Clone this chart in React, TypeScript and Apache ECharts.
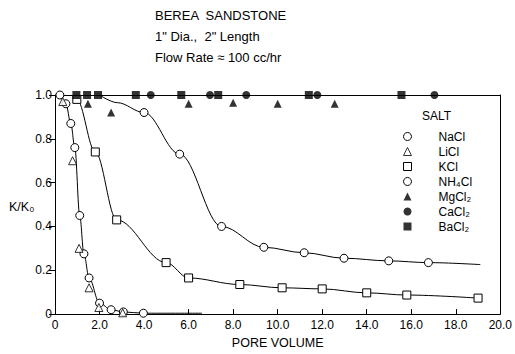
import React, { useEffect, useRef } from "react";
import * as echarts from "echarts";

const titleLines = ["BEREA  SANDSTONE", "1\" Dia.,  2\" Length", "Flow Rate ≈ 100 cc/hr"];
const xTicks = [0, 2, 4, 6, 8, 10, 12, 14, 16, 18, 20];
const xTickLabels = ["0", "2.0", "4.0", "6.0", "8.0", "10.0", "12.0", "14.0", "16.0", "18.0", "20.0"];
const yTicks = [0, 0.2, 0.4, 0.6, 0.8, 1.0];
const yTickLabels = ["0", "0.2", "0.4", "0.6", "0.8", "1.0"];
const xName = "PORE VOLUME";
const yName = "K/K₀";
const legendTitle = "SALT";
const saltNames = ["NaCl", "LiCl", "KCl", "NH₄Cl", "MgCl₂", "CaCl₂", "BaCl₂"];

// NaCl: open circles, steep fitted curve
const naclPoints = [
  [0.22, 1.0], [0.49, 0.96], [0.71, 0.87], [0.89, 0.76], [1.11, 0.45], [1.3, 0.275],
  [1.53, 0.165], [2.0, 0.05], [2.52, 0.02], [3.07, 0.01], [3.97, 0.004],
];
const naclCurveTail = [[6.6, 0.004]];
// LiCl: open triangles
const liclPoints = [[0.35, 0.97], [0.79, 0.7], [1.08, 0.3], [1.53, 0.12], [1.97, 0.03], [3.04, 0.006]];
// KCl: open squares
const kclCurveHead = [[0.9, 1.0]];
const kclPoints = [
  [0.98, 0.98], [1.81, 0.74], [2.77, 0.43], [4.99, 0.235], [6.0, 0.165], [8.3, 0.135],
  [10.2, 0.12], [12.0, 0.115], [14.0, 0.097], [15.8, 0.087], [19.0, 0.073],
];
// NH4Cl: open circles, slow fitted curve
const nh4clCurveHead = [[2.0, 1.0], [2.8, 0.965]];
const nh4clPoints = [
  [4.0, 0.92], [5.6, 0.73], [7.48, 0.4], [9.38, 0.305], [11.19, 0.28], [12.98, 0.255],
  [14.99, 0.243], [16.77, 0.235],
];
const nh4clCurveTail = [[19.1, 0.226]];
// MgCl2: filled triangles
const mgcl2Points = [[1.48, 0.96], [2.52, 0.92], [6.0, 0.96], [8.0, 0.965], [10.0, 0.96], [12.56, 0.96]];
// CaCl2: filled circles
const cacl2Points = [[4.3, 1.0], [6.96, 1.0], [8.59, 1.0], [11.78, 1.0], [17.04, 1.0]];
// BaCl2: filled squares
const bacl2Points = [[0.96, 1.0], [1.44, 1.0], [1.93, 1.0], [3.63, 1.0], [5.67, 1.0], [7.33, 1.0], [11.4, 1.0], [15.56, 1.0]];

const FONT = "Liberation Sans";
const BLACK = "#000";

function lookup(ticks: number[], labels: string[], v: number) {
  const r = Math.round(v * 100) / 100;
  const i = ticks.findIndex((t) => Math.abs(t - r) < 1e-6);
  return i >= 0 ? labels[i] : "";
}

const emptyStyle = { color: "#fff", borderColor: BLACK, borderWidth: 1 };
const fullStyle = { color: BLACK, borderColor: BLACK, borderWidth: 0 };

function curveData(head: number[][], pts: number[][], tail: number[][]) {
  return [
    ...head.map((p) => ({ value: p, symbol: "none" })),
    ...pts.map((p) => ({ value: p })),
    ...tail.map((p) => ({ value: p, symbol: "none" })),
  ];
}

export default function App() {
  const ref = useRef<HTMLDivElement>(null);
  useEffect(() => {
    if (!ref.current) return;
    const chart = echarts.init(ref.current, undefined, { renderer: "svg" });
    const lineCommon = {
      type: "line" as const,
      smooth: 0.35,
      smoothMonotone: "x" as const,
      clip: false,
      symbolSize: 8,
      lineStyle: { color: BLACK, width: 1 },
      z: 3,
    };
    const scatterCommon = { type: "scatter" as const, clip: false, z: 4 };
    chart.setOption({
      animation: false,
      textStyle: { fontFamily: FONT, color: BLACK },
      grid: { left: 55, right: 12, top: 95, bottom: 32 },
      xAxis: [
        {
          type: "value",
          min: 0,
          max: 20,
          interval: 2,
          axisLine: { show: true, lineStyle: { color: BLACK, width: 1 } },
          axisTick: { show: true, inside: true, length: 5, lineStyle: { color: BLACK } },
          splitLine: { show: false },
          axisLabel: {
            color: BLACK,
            fontFamily: FONT,
            fontSize: 12,
            margin: 5,
            formatter: (v: number) => lookup(xTicks, xTickLabels, v),
          },
          name: xName,
          nameLocation: "middle",
          nameGap: 21,
          nameTextStyle: { color: BLACK, fontFamily: FONT, fontSize: 12.5 },
        },
        {
          type: "value",
          position: "top",
          min: 0,
          max: 20,
          axisLine: { show: true, onZero: false, lineStyle: { color: BLACK, width: 1 } },
          axisTick: { show: false },
          axisLabel: { show: false },
          splitLine: { show: false },
        },
      ],
      yAxis: [
        {
          type: "value",
          min: 0,
          max: 1,
          interval: 0.2,
          axisLine: { show: true, lineStyle: { color: BLACK, width: 1 } },
          axisTick: { show: true, inside: false, length: 6, lineStyle: { color: BLACK } },
          splitLine: { show: false },
          axisLabel: {
            color: BLACK,
            fontFamily: FONT,
            fontSize: 12,
            margin: 3,
            formatter: (v: number) => lookup(yTicks, yTickLabels, v),
          },
        },
        {
          type: "value",
          position: "right",
          min: 0,
          max: 1,
          axisLine: { show: true, onZero: false, lineStyle: { color: BLACK, width: 1 } },
          axisTick: { show: false },
          axisLabel: { show: false },
          splitLine: { show: false },
        },
      ],
      legend: {
        orient: "vertical",
        left: 398,
        top: 125,
        itemWidth: 8,
        itemHeight: 8,
        itemGap: 2,
        selectedMode: false,
        textStyle: { fontFamily: FONT, fontSize: 12, color: BLACK, padding: [0, 0, 0, 22], lineHeight: 13 },
        data: [
          { name: saltNames[0], icon: "circle", itemStyle: emptyStyle },
          { name: saltNames[1], icon: "triangle", itemStyle: emptyStyle },
          { name: saltNames[2], icon: "rect", itemStyle: emptyStyle },
          { name: saltNames[3], icon: "circle", itemStyle: emptyStyle },
          { name: saltNames[4], icon: "triangle", itemStyle: fullStyle },
          { name: saltNames[5], icon: "circle", itemStyle: fullStyle },
          { name: saltNames[6], icon: "rect", itemStyle: fullStyle },
        ],
      },
      graphic: [
        ...titleLines.map((t, i) => ({
          type: "text",
          left: 155,
          top: 9 + i * 21,
          style: { text: t, fontFamily: FONT, fontSize: 13, fill: BLACK },
        })),
        {
          type: "text",
          left: 422,
          top: 110,
          style: { text: legendTitle, fontFamily: FONT, fontSize: 12, fill: BLACK },
        },
        {
          type: "text",
          left: 9,
          top: 200,
          style: { text: yName, fontFamily: FONT, fontSize: 12.5, fill: BLACK },
        },
      ],
      series: [
        {
          ...lineCommon,
          name: saltNames[0],
          symbol: "circle",
          itemStyle: emptyStyle,
          data: curveData([], naclPoints, naclCurveTail),
        },
        {
          ...scatterCommon,
          name: saltNames[1],
          symbol: "triangle",
          symbolSize: 8,
          itemStyle: emptyStyle,
          data: liclPoints,
        },
        {
          ...lineCommon,
          name: saltNames[2],
          symbol: "rect",
          itemStyle: emptyStyle,
          data: curveData(kclCurveHead, kclPoints, []),
        },
        {
          ...lineCommon,
          name: saltNames[3],
          symbol: "circle",
          itemStyle: emptyStyle,
          data: curveData(nh4clCurveHead, nh4clPoints, nh4clCurveTail),
        },
        {
          ...scatterCommon,
          name: saltNames[4],
          symbol: "triangle",
          symbolSize: 8,
          itemStyle: fullStyle,
          data: mgcl2Points,
        },
        {
          ...scatterCommon,
          name: saltNames[5],
          symbol: "circle",
          symbolSize: 8,
          itemStyle: fullStyle,
          data: cacl2Points,
        },
        {
          ...scatterCommon,
          name: saltNames[6],
          symbol: "rect",
          symbolSize: 8,
          itemStyle: fullStyle,
          data: bacl2Points,
        },
      ],
    });
    return () => chart.dispose();
  }, []);
  return (
    <div
      ref={ref}
      style={{ position: "fixed", left: 0, top: 0, width: 515, height: 354, background: "#fff" }}
    />
  );
}
